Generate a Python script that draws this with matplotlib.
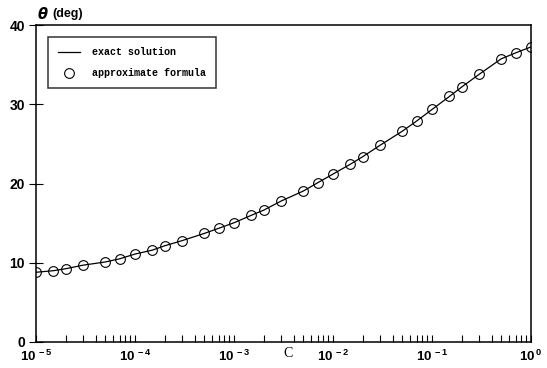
import matplotlib
matplotlib.use("Agg")
from matplotlib import pyplot as plt
from matplotlib.ticker import LogLocator, NullFormatter, FuncFormatter
import numpy as np

plt.rcParams["mathtext.fontset"] = "custom"
plt.rcParams["mathtext.bf"] = "Liberation Sans:bold"
plt.rcParams["mathtext.rm"] = "Liberation Sans:bold"
plt.rcParams["axes.unicode_minus"] = False

# parameter C and the angle theta (deg)
c_values = [
    1e-5, 1.5e-5, 2e-5, 3e-5, 5e-5, 7e-5,
    1e-4, 1.5e-4, 2e-4, 3e-4, 5e-4, 7e-4,
    1e-3, 1.5e-3, 2e-3, 3e-3, 5e-3, 7e-3,
    1e-2, 1.5e-2, 2e-2, 3e-2, 5e-2, 7e-2,
    1e-1, 1.5e-1, 2e-1, 3e-1, 5e-1, 7e-1,
    1.0,
]
theta_exact = [
    8.8, 9.0, 9.25, 9.7, 10.1, 10.5,
    11.1, 11.6, 12.15, 12.8, 13.7, 14.35,
    15.05, 16.0, 16.65, 17.8, 19.05, 20.1,
    21.2, 22.45, 23.4, 24.85, 26.6, 27.9,
    29.35, 31.0, 32.2, 33.8, 35.75, 36.5,
    37.25,
]
theta_approx = list(theta_exact)

y_ticks = [0, 10, 20, 30, 40]


def decade_label(val, pos):
    exp = int(round(np.log10(val)))
    return r"$\mathbf{10^{\,%d}}$" % exp


fig = plt.figure(figsize=(5.47, 3.68), dpi=100)
ax = fig.add_axes([0.0658, 0.0707, 0.905, 0.861])

ax.plot(c_values, theta_exact, color="black", lw=0.9, label="exact solution")
ax.plot(c_values, theta_approx, ls="none", marker="o", ms=7, mfc="none",
        mec="black", mew=0.8, label="approximate formula")

ax.set_xscale("log")
ax.set_xlim(1e-5, 1.0)
ax.set_ylim(0, 40)

ax.xaxis.set_major_locator(LogLocator(base=10, numticks=10))
ax.xaxis.set_minor_locator(LogLocator(base=10, subs=np.arange(2, 10), numticks=10))
ax.xaxis.set_major_formatter(FuncFormatter(decade_label))
ax.xaxis.set_minor_formatter(NullFormatter())
ax.tick_params(axis="x", which="both", direction="in", length=5, width=0.8,
               pad=5, top=False, labelsize=9.5)
ax.set_yticks(y_ticks)
ax.tick_params(axis="y", which="major", direction="inout", length=10, width=0.8,
               pad=3, right=False, labelsize=10)
for lbl in ax.get_yticklabels():
    lbl.set_fontweight("bold")
    lbl.set_family("Liberation Sans")

for sp in ax.spines.values():
    sp.set_linewidth(1.1)

ax.set_xlabel("C", family="Liberation Serif", fontsize=10)
ax.xaxis.set_label_coords(0.509, -0.035)
ax.xaxis.label.set_verticalalignment("center")

ax.text(0.003, 1.035, "θ", transform=ax.transAxes, fontsize=10.5,
        fontweight="bold", fontstyle="italic", family="DejaVu Sans",
        va="center", ha="left")
ax.text(0.034, 1.035, "(deg)", transform=ax.transAxes, fontsize=9,
        fontweight="bold", family="Liberation Sans", va="center", ha="left")

leg = ax.legend(loc="upper left", bbox_to_anchor=(0.024, 0.962),
                borderaxespad=0, frameon=True, fancybox=False,
                prop={"family": "Liberation Mono", "weight": "bold", "size": 7.2},
                handlelength=2.2, handletextpad=1.2, labelspacing=1.1,
                borderpad=1.0)
leg.get_frame().set_edgecolor("black")
leg.get_frame().set_linewidth(1.1)

fig.savefig("out.png", dpi=100)
